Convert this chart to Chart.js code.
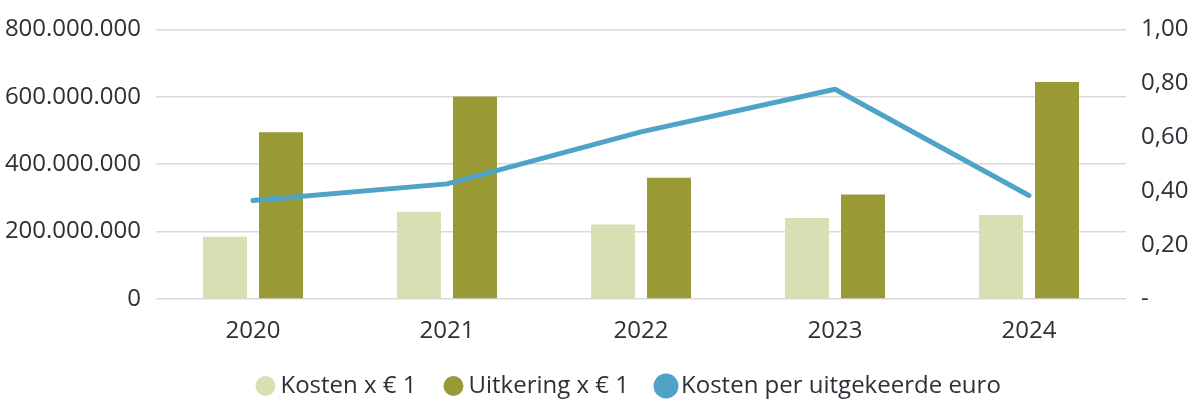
<!DOCTYPE html>
<html>
<head>
<meta charset="utf-8">
<script src="https://cdn.jsdelivr.net/npm/chart.js@4"></script>
<style>
html,body{margin:0;padding:0;background:#fff;}
#wrap{width:1190px;height:400px;position:relative;}
</style>
</head>
<body>
<div id="wrap"><canvas id="c"></canvas></div>
<script>
const categories = ['2020', '2021', '2022', '2023', '2024'];
const kosten = [185000000, 259000000, 221000000, 240000000, 249000000];
const uitkering = [495000000, 601000000, 360000000, 310000000, 644000000];
const kostenPerEuro = [0.365, 0.427, 0.62, 0.778, 0.384];
const seriesNames = ['Kosten x € 1', 'Uitkering x € 1', 'Kosten per uitgekeerde euro'];

const textColor = '#2b3137';
const gridColor = '#d9d9d9';
const fontFamily = "'Open Sans', 'Noto Sans', sans-serif";

function fmtThousands(v) {
  return String(Math.round(v)).replace(/\B(?=(\d{3})+(?!\d))/g, '.');
}

new Chart(document.getElementById('c'), {
  data: {
    labels: categories,
    datasets: [
      {
        type: 'bar', label: seriesNames[0], data: kosten,
        backgroundColor: '#d7dfb3', borderWidth: 0, yAxisID: 'y', order: 1,
        pointStyle: 'circle'
      },
      {
        type: 'bar', label: seriesNames[1], data: uitkering,
        backgroundColor: '#999935', borderWidth: 0, yAxisID: 'y', order: 1,
        pointStyle: 'circle'
      },
      {
        type: 'line', label: seriesNames[2], data: kostenPerEuro,
        borderColor: '#4ea3c6', backgroundColor: '#4ea3c6', borderWidth: 5,
        borderCapStyle: 'round', borderJoinStyle: 'round',
        pointRadius: 0, pointHoverRadius: 0, tension: 0, yAxisID: 'y1', order: 0,
        pointStyle: 'circle'
      }
    ]
  },
  options: {
    responsive: true,
    maintainAspectRatio: false,
    animation: false,
    layout: { padding: { top: 13.6, bottom: -8, left: 0, right: 0 } },
    datasets: { bar: { categoryPercentage: 0.577, barPercentage: 0.786 } },
    plugins: {
      tooltip: { enabled: false },
      legend: {
        position: 'bottom',
        fullSize: false,
        labels: {
          usePointStyle: true,
          boxWidth: 6, boxHeight: 14.1,
          padding: 34,
          color: textColor,
          font: { family: fontFamily, size: 24 },
          sort: (a, b) => a.datasetIndex - b.datasetIndex,
          generateLabels: chart => {
            const items = Chart.defaults.plugins.legend.labels.generateLabels(chart);
            items.forEach(it => {
              if (it.datasetIndex === 2) it.text = it.text + '   ';
            });
            return items;
          }
        }
      }
    },
    scales: {
      x: {
        afterFit: s => { s.height = 41; },
        grid: { display: false, drawTicks: false },
        border: { display: false },
        ticks: { color: textColor, font: { family: fontFamily, size: 24 }, padding: 18, maxRotation: 0 }
      },
      y: {
        position: 'left',
        min: 0, max: 800000000,
        afterFit: s => { s.width = 156; },
        grid: { color: gridColor, lineWidth: 1.5, drawTicks: false },
        border: { display: false },
        ticks: {
          stepSize: 200000000, padding: 15, color: textColor,
          font: { family: fontFamily, size: 24 },
          callback: v => fmtThousands(v)
        }
      },
      y1: {
        position: 'right',
        min: 0, max: 1,
        afterFit: s => { s.width = 64; },
        grid: { drawOnChartArea: false, drawTicks: false },
        border: { display: false },
        ticks: {
          stepSize: 0.2, padding: 15, color: textColor,
          font: { family: fontFamily, size: 24 },
          callback: v => (Math.abs(v) < 1e-9 ? '-' : v.toFixed(2).replace('.', ','))
        }
      }
    }
  }
});
</script>
</body>
</html>
